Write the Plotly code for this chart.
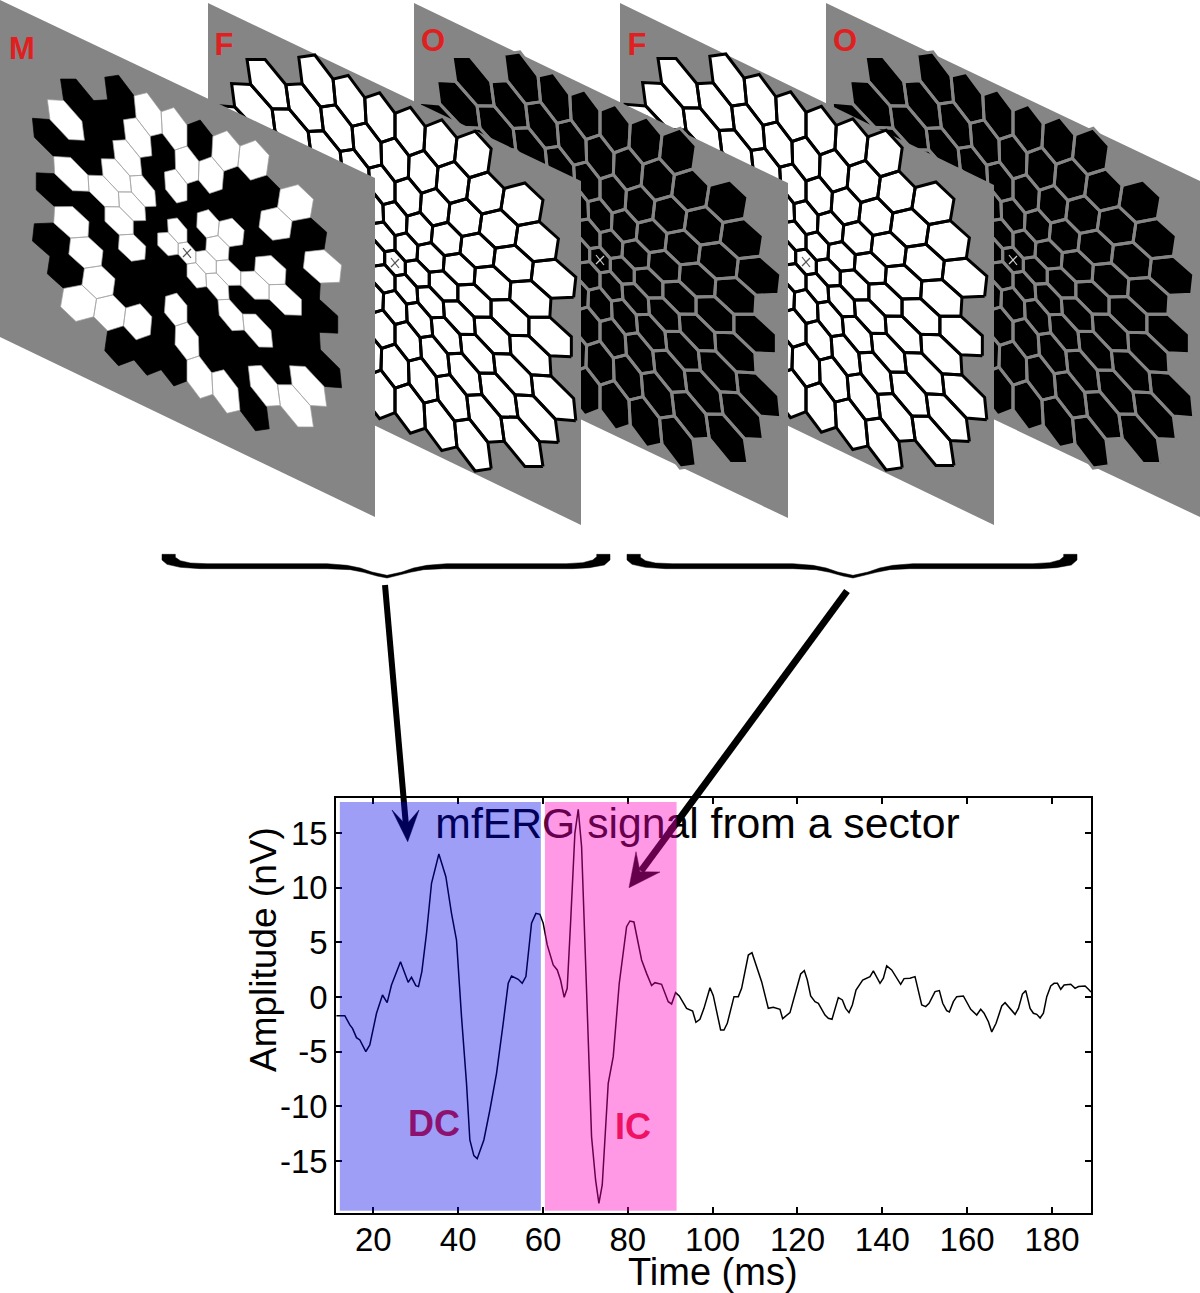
import math
import plotly.graph_objects as go

time_ms = [11.3,13.28,14.46,15.09,16.03,16.82,18.23,19.17,20.75,22.16,23.26,24.28,26.41,28.21,29.0,30.02,30.65,31.44,32.54,33.72,35.45,37.1,38.43,39.61,40.79,41.97,42.76,43.7,44.49,46.06,47.48,49.05,50.62,51.8,52.59,54.16,55.1,55.97,57.3,58.33,59.27,60.05,61.0,62.41,63.36,64.14,65.0,65.71,66.5,67.52,68.31,69.1,70.27,71.45,72.4,73.18,73.97,75.38,76.56,77.98,79.71,80.49,81.44,83.25,84.42,85.6,86.39,87.96,89.53,90.32,91.26,92.13,
93.86,95.28,96.06,97.0,97.95,99.37,100.15,101.88,102.67,103.45,105.03,106.05,106.83,108.41,109.27,111.55,113.12,114.3,115.87,116.5,118.23,119.41,120.75,121.61,122.32,123.11,124.13,124.92,126.49,127.27,128.14,129.63,130.58,131.36,132.15,132.93,133.8,135.37,137.1,137.89,139.46,140.25,141.03,142.21,143.39,144.33,145.12,146.53,147.71,149.29,150.23,151.02,152.43,153.45,154.24,155.18,155.81,156.75,157.54,159.11,160.84,162.26,163.2,163.99,165.01,165.8,166.82,168.16,168.94,171.3,172.09,173.03,173.82,174.84,175.62,176.41,177.2,177.98,178.77,179.71,180.5,181.29,182.07,182.86,184.43,185.45,186.24,187.81,188.6,189.2]
amplitude_nv = [-1.71,-1.71,-2.56,-2.87,-3.72,-3.93,-5.0,-4.39,-1.49,0.18,-0.52,1.1,3.23,1.34,1.8,1.04,0.95,2.32,5.82,10.4,13.08,11.0,7.65,5.21,-1.8,-7.9,-13.08,-14.51,-14.79,-13.08,-10.34,-6.98,-2.41,1.25,1.92,1.62,1.25,1.86,6.74,7.65,7.56,6.74,4.76,2.93,2.47,1.55,-0.03,0.79,6.74,14.97,17.16,13.75,0.64,-12.77,-16.74,-18.87,-17.2,-7.9,-5.46,1.25,6.43,6.95,6.86,3.38,2.16,1.04,1.31,1.16,-0.43,-0.64,0.4,0.09,
-1.04,-1.28,-2.32,-2.04,-1.04,0.85,0.12,-3.02,-3.02,-2.41,0.03,0.03,0.79,3.84,4.05,1.4,-1.04,-0.95,-1.13,-1.98,-1.43,0.18,2.1,2.41,1.55,0.09,-0.43,-0.58,-1.65,-1.95,-2.04,-0.06,-0.27,-1.04,-1.43,-0.73,0.64,1.55,1.86,2.38,1.25,1.71,2.84,2.47,1.8,1.16,1.68,1.71,1.86,-0.73,-0.88,-0.58,0.49,0.58,-0.58,-1.25,-1.37,-0.43,0.03,0.09,-1.13,-1.65,-1.13,-1.49,-2.26,-3.2,-2.41,-0.82,-0.52,-1.59,-1.04,0.27,0.58,-1.04,-1.49,-1.59,-1.92,-1.49,0.03,1.01,1.25,1.25,0.7,1.1,1.16,0.79,0.95,1.01,0.7,0.45]
x_ticks = [20,40,60,80,100,120,140,160,180]
y_ticks = [-15,-10,-5,0,5,10,15]
y_tick_labels = ["-15","-10","-5","0","5","10","15"]
dc_band = [12.1,59.5]
ic_band = [60.45,91.5]
band_amp = [-19.55,17.84]

panel_letters = ["O","F","O","F","M"]
panel_left = [826,620,414,208,0]
panel_width = [374,374,374,373,375]
panel_top = [3,3,3,3,0]
panel_right_top = [181,185,183,181,178]
panel_right_bottom = [517,525,518,525,517]
panel_left_bottom = [340,345,340,345,337]
centre_x = [1013,806,600,395,187]
centre_y = [260,262,260,263,253]
panel_scale = [1.17,1.17,1.17,1.17,1.0]
letter_x = [845,637,433,224,22]
letter_y = [43,47,43,47,51]
excluded_cells = [(3,-6),(2,-6),(4,-6),(-3,6),(-2,6),(-4,6)]
m_white_cells = [(-3,-3),(1,-5),(2,-5),(0,-4),(-1,-3),(-2,-2),(-4,-1),(-3,-1),(-1,-2),(-2,-1),(-3,0),(-5,1),(-3,1),(-5,2),(-5,3),(-6,4),(-5,4),(-4,4),(2,-4),(3,-4),(1,-3),(4,-5),(5,-5),(6,-4),(5,-3),(6,-2),(4,-1),(3,0),(4,0),(2,-2),(3,-2),(2,-1),(0,-1),(-1,0),(0,0),(1,0),(2,0),(0,1),(1,1),(-2,3),(-2,4),(-2,5),(-1,5),(1,2),(2,2),(1,4),(3,3),(2,4)]

BASE,K,SHEAR,YSCALE = 16.5,0.12,0.475,1.08
def hexes():
    cells=[]
    for q in range(-7,8):
        for r in range(-7,8):
            n=q*q+q*r+r*r
            if (n<=25 or n in (27,28)) and (q,r) not in excluded_cells:
                cells.append((q,r,q+r/2,r*math.sqrt(3)/2))
    return cells
def mapped(px,py,cx,cy,s):
    rho=math.hypot(px,py)
    f=s*BASE*(1+K*rho)
    X,Y=px*f,py*f*YSCALE
    return cx+X,cy+Y+SHEAR*X
def paths(cells,cx,cy,s):
    xs,ys=[],[]
    for (q,r,px,py) in cells:
        pts=[mapped(px+math.cos(math.radians(30+60*i))/math.sqrt(3),py+math.sin(math.radians(30+60*i))/math.sqrt(3),cx,cy,s) for i in range(6)]
        pts.append(pts[0])
        xs+= [p[0] for p in pts]+[None]
        ys+= [p[1] for p in pts]+[None]
    return xs,ys

fig=go.Figure()
fig.add_trace(go.Scatter(x=time_ms,y=amplitude_nv,mode="lines",line=dict(color="black",width=1.5),showlegend=False,hoverinfo="skip"))
def ov(**k):
    k.setdefault("showlegend",False);k.setdefault("hoverinfo","skip")
    fig.add_trace(go.Scatter(xaxis="x2",yaxis="y2",**k))
for i in range(5):
    l,w=panel_left[i],panel_width[i]
    s,cx,cy=panel_scale[i],centre_x[i],centre_y[i]
    ov(x=[l,l+w,l+w,l,l],y=[panel_top[i],panel_right_top[i],panel_right_bottom[i],panel_left_bottom[i],panel_top[i]],mode="lines",fill="toself",fillcolor="#858585",line=dict(width=0,color="#858585"))
    ch=panel_letters[i]
    cells=hexes()
    if ch=="M":
        blk=[c for c in cells if (c[0],c[1]) not in m_white_cells]
        wht=[c for c in cells if (c[0],c[1]) in m_white_cells]
        xs,ys=paths(blk,cx,cy,s)
        ov(x=xs,y=ys,mode="lines",fill="toself",fillcolor="black",line=dict(color="black",width=0.7))
        xs,ys=paths(wht,cx,cy,s)
        ov(x=xs,y=ys,mode="lines",fill="toself",fillcolor="white",line=dict(color="#a0a0a0",width=0.7))
    else:
        xs,ys=paths(cells,cx,cy,s)
        ov(x=xs,y=ys,mode="lines",fill="toself",fillcolor="black" if ch=="O" else "white",line=dict(color="#858585" if ch=="O" else "black",width=3))
    ov(x=[cx-4,cx+4,None,cx-4,cx+4],y=[cy-5,cy+5,None,cy+4,cy-4],mode="lines",line=dict(color="#d0d0d0" if ch=="O" else "#555555",width=1.2))
    ov(x=[letter_x[i]],y=[letter_y[i]],mode="text",text=[ch],textfont=dict(family="Liberation Sans",size=31,color="#E02020",weight="bold"))

brace_x=[75,75,90,120,170,530,590,630,665,710,755,790,830,890,1250,1300,1330,1342,1342,1382,1382,1365,1320,1270,880,820,780,740,710,680,640,600,530,150,90,50,35,35,75]
brace_y=[43,52,62,69,71,71,76,84,96,106,96,84,76,71,71,68,60,50,43,43,60,75,83,86,86,89,97,108,114,108,97,89,86,86,82,73,60,43,43]
for x0,x1,tip in [(162,610,387),(627,1077,853)]:
    xs=[]
    for z in brace_x:
        if z<=710: xs.append(x0+(z-35)*(tip-x0)/(710-35))
        else: xs.append(tip+(z-710)*(x1-tip)/(1382-710))
    ov(x=xs,y=[540+z/3 for z in brace_y],mode="lines",fill="toself",fillcolor="black",line=dict(color="black",width=0.5))
ov(x=[385,406],y=[585,826],mode="lines",line=dict(color="black",width=6))
ov(x=[407.7,392,406,419,407.7],y=[841.7,810,825,810,841.7],mode="lines",fill="toself",fillcolor="black",line=dict(color="black",width=0.5))
ov(x=[847,641],y=[591,871],mode="lines",line=dict(color="black",width=7))
ov(x=[629,636,640,660,629],y=[887.7,851.7,871.7,872,887.7],mode="lines",fill="toself",fillcolor="black",line=dict(color="black",width=0.5))
ov(x=[697.5],y=[827],mode="text",text=["mfERG signal from a sector"],textfont=dict(family="Liberation Sans",size=42.7,color="black"))
ov(x=[434,633],y=[1127,1130],mode="text",text=["DC","IC"],textfont=dict(family="Liberation Sans",size=36,color="#E41E26",weight="bold"))

fig.add_shape(type="rect",xref="x",yref="y",x0=dc_band[0],x1=dc_band[1],y0=band_amp[0],y1=band_amp[1],fillcolor="rgba(0,0,234,0.38)",line=dict(width=0),layer="above")
fig.add_shape(type="rect",xref="x",yref="y",x0=ic_band[0],x1=ic_band[1],y0=band_amp[0],y1=band_amp[1],fillcolor="rgba(255,0,192,0.40)",line=dict(width=0),layer="above")
font=dict(family="Liberation Sans",color="black")
fig.add_annotation(xref="paper",yref="paper",x=263/1200,y=1-950/1293,text="Amplitude (nV)",textangle=-90,showarrow=False,font=dict(size=37,**font),xanchor="center",yanchor="middle")
fig.add_annotation(xref="paper",yref="paper",x=713/1200,y=1-1272/1293,text="Time (ms)",showarrow=False,font=dict(size=38,**font),xanchor="center",yanchor="middle")
fig.update_layout(width=1200,height=1293,margin=dict(l=0,r=0,t=0,b=0),plot_bgcolor="rgba(0,0,0,0)",paper_bgcolor="white",
    xaxis=dict(domain=[336/1200,1091/1200],range=[11.2,189.2],tickvals=x_ticks,ticks="inside",ticklen=6,tickwidth=1.5,tickcolor="black",showline=True,linewidth=1.5,linecolor="black",mirror="allticks",showgrid=False,zeroline=False,tickfont=dict(size=33,**font),ticklabelstandoff=-3,anchor="y"),
    yaxis=dict(domain=[80/1293,495/1293],range=[-19.76,18.2],tickvals=y_ticks,ticktext=y_tick_labels,ticks="inside",ticklen=6,tickwidth=1.5,tickcolor="black",showline=True,linewidth=1.5,linecolor="black",mirror="allticks",showgrid=False,zeroline=False,tickfont=dict(size=33,**font),anchor="x"),
    xaxis2=dict(domain=[0,1],range=[0,1200],visible=False,anchor="y2"),
    yaxis2=dict(domain=[0,1],range=[1293,0],visible=False,anchor="x2"))
fig.write_html("out.html",post_script="document.body.style.margin='0';",config=dict(displayModeBar=False))
